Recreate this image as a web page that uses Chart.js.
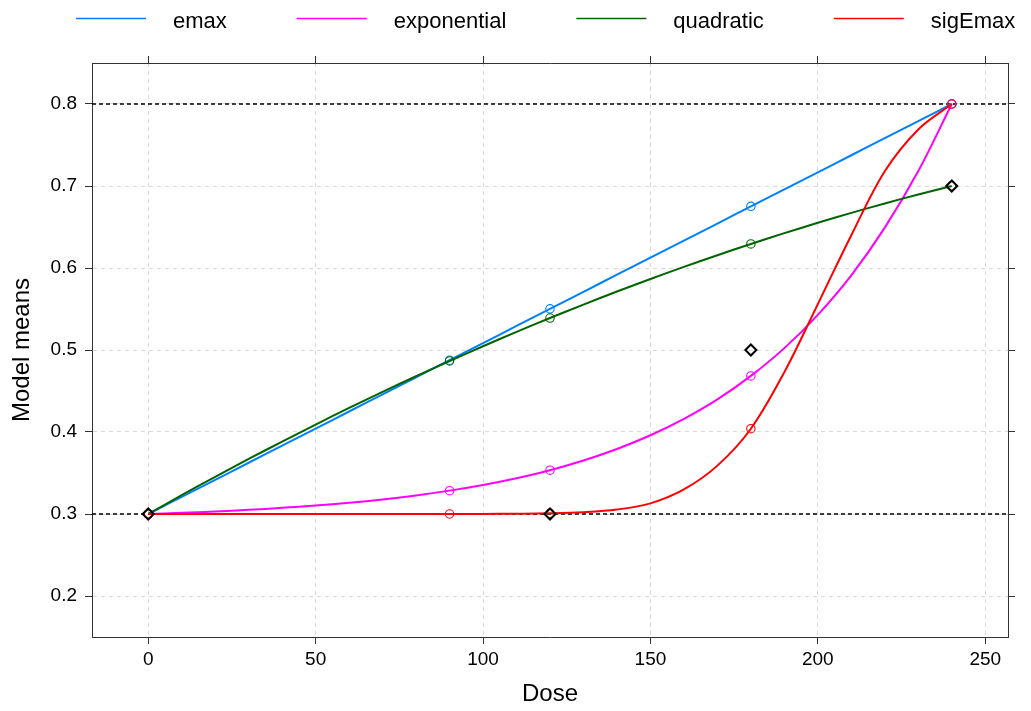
<!DOCTYPE html>
<html>
<head>
<meta charset="utf-8">
<title>Model means by dose</title>
<script src="https://cdn.jsdelivr.net/npm/chart.js@4.4.0/dist/chart.umd.min.js"></script>
<style>
  html, body { margin: 0; padding: 0; background: #fff; }
  #wrap { width: 1031px; height: 711px; }
</style>
</head>
<body>
<div id="wrap"><canvas id="chart" width="1031" height="711"></canvas></div>
<script>
(function () {
  /* ---------- data ---------- */
  const doses = [0, 10, 20, 30, 40, 50, 60, 70, 80, 90, 100, 110, 120,
                 130, 140, 150, 160, 170, 180, 190, 200, 210, 220, 230, 240];
  const markedDoses = [0, 90, 120, 180, 240];

  const emaxMeans = [0.3000, 0.3208, 0.3417, 0.3625, 0.3833, 0.4042, 0.4250, 0.4458, 0.4667, 0.4876, 0.5084, 0.5293, 0.5502,
                     0.5710, 0.5918, 0.6126, 0.6334, 0.6542, 0.6752, 0.6959, 0.7167, 0.7375, 0.7584, 0.7792, 0.8000];
  const exponentialMeans = [0.3000, 0.3014, 0.3031, 0.3051, 0.3075, 0.3103, 0.3137, 0.3178, 0.3227, 0.3285, 0.3354, 0.3436, 0.3534,
                            0.3652, 0.3793, 0.3960, 0.4160, 0.4398, 0.4684, 0.5023, 0.5429, 0.5911, 0.6492, 0.7182, 0.8000];
  const quadraticMeans = [0.3000, 0.3229, 0.3453, 0.3671, 0.3883, 0.4091, 0.4293, 0.4489, 0.4680, 0.4866, 0.5046, 0.5221, 0.5390,
                          0.5554, 0.5713, 0.5866, 0.6014, 0.6156, 0.6293, 0.6425, 0.6551, 0.6672, 0.6787, 0.6897, 0.7000];
  const sigEmaxMeans = [0.3000, 0.3000, 0.3000, 0.3000, 0.3000, 0.3000, 0.3000, 0.3000, 0.3000, 0.3000, 0.3001, 0.3003, 0.3008,
                        0.3022, 0.3055, 0.3130, 0.3300, 0.3590, 0.4040, 0.4730, 0.5560, 0.6400, 0.7180, 0.7690, 0.8000];

  const seriesNames = ["emax", "exponential", "quadratic", "sigEmax"];
  const seriesColors = ["#0080ff", "#ff00ff", "#006400", "#ff0000"];
  const seriesMeans = [emaxMeans, exponentialMeans, quadraticMeans, sigEmaxMeans];

  // diamonds: target means at selected doses
  const targetDoses = [0, 120, 180, 240];
  const targetMeans = [0.3, 0.3, 0.5, 0.7];

  // dotted reference levels (placebo / max effect)
  const refLevels = [0.3, 0.8];

  const xLimits = [-16.8, 256.8];
  const yLimits = [0.15, 0.85];
  const xTicks = [0, 50, 100, 150, 200, 250];
  const yTicks = [0.2, 0.3, 0.4, 0.5, 0.6, 0.7, 0.8];

  Chart.defaults.font.family = '"Liberation Sans", Arial, Helvetica, sans-serif';
  Chart.defaults.color = "#000";

  /* ---------- datasets ---------- */
  const modelSets = seriesNames.map((name, i) => ({
    label: name,
    data: doses.map((d, j) => ({ x: d, y: seriesMeans[i][j] })),
    borderColor: seriesColors[i],
    borderWidth: 2,
    tension: 0.35,
    fill: false,
    pointRadius: (c) => (c.raw && markedDoses.includes(c.raw.x) ? 4.2 : 0),
    pointBorderWidth: 1.1,
    pointBorderColor: seriesColors[i],
    pointBackgroundColor: "rgba(0,0,0,0)",
    order: 4 - i,
  }));

  const refSets = refLevels.map((lvl) => ({
    label: "ref " + lvl,
    data: xLimits.map((x) => ({ x: x, y: lvl })),
    borderColor: "#000",
    borderWidth: 1.3,
    borderDash: [4, 3],
    pointRadius: 0,
    fill: false,
    order: 10,
  }));

  const targetSet = {
    label: "target",
    data: targetDoses.map((d, i) => ({ x: d, y: targetMeans[i] })),
    showLine: false,
    pointStyle: "rectRot",
    pointRadius: 5.5,
    pointBorderWidth: 2,
    pointBorderColor: "#000",
    pointBackgroundColor: "rgba(0,0,0,0)",
    order: 0,
  };

  /* ---------- key across the top ---------- */
  const keyLegend = {
    id: "keyLegend",
    afterDraw(chart) {
      const ctx = chart.ctx;
      ctx.save();
      ctx.font = '22px "Liberation Sans", Arial, Helvetica, sans-serif';
      ctx.textBaseline = "alphabetic";
      ctx.textAlign = "left";
      let x = 76;
      seriesNames.forEach((name, i) => {
        ctx.strokeStyle = seriesColors[i];
        ctx.lineWidth = 1.5;
        ctx.beginPath();
        ctx.moveTo(x, 18.5);
        ctx.lineTo(x + 70, 18.5);
        ctx.stroke();
        x += 97;
        ctx.fillStyle = "#000";
        ctx.fillText(name, x, 27.5);
        x += ctx.measureText(name).width + 70;
      });
      ctx.restore();
    },
  };

  const gridOpts = (onArea) => ({
    drawOnChartArea: onArea,
    color: "#d9d9d9",
    lineWidth: 1,
    tickColor: "#333",
    tickLength: 7,
    tickWidth: 1,
    tickBorderDash: [],
  });
  const borderOpts = { color: "#333", width: 1, dash: [4, 4] };

  new Chart(document.getElementById("chart"), {
    type: "line",
    data: { datasets: [...modelSets, ...refSets, targetSet] },
    plugins: [keyLegend],
    options: {
      responsive: false,
      animation: false,
      devicePixelRatio: 1,
      events: [],
      layout: { padding: { left: 0, right: 16, top: 56, bottom: 0 } },
      plugins: { legend: { display: false }, tooltip: { enabled: false } },
      scales: {
        x: {
          type: "linear",
          position: "bottom",
          min: xLimits[0],
          max: xLimits[1],
          afterBuildTicks: (s) => { s.ticks = xTicks.map((v) => ({ value: v })); },
          afterFit: (s) => { s.height = 74; },
          grid: gridOpts(true),
          border: borderOpts,
          ticks: { font: { size: 19 }, color: "#000", padding: 4, maxRotation: 0, autoSkip: false },
          title: { display: true, text: "Dose", font: { size: 24 }, color: "#000", padding: { top: 0, bottom: 2 } },
        },
        x2: {
          type: "linear",
          position: "top",
          min: xLimits[0],
          max: xLimits[1],
          afterBuildTicks: (s) => { s.ticks = xTicks.map((v) => ({ value: v })); },
          afterFit: (s) => { s.height = 7; },
          grid: gridOpts(false),
          border: borderOpts,
          ticks: { display: false },
        },
        y: {
          type: "linear",
          position: "left",
          min: yLimits[0],
          max: yLimits[1],
          afterBuildTicks: (s) => { s.ticks = yTicks.map((v) => ({ value: v })); },
          afterFit: (s) => { s.width = 92; },
          grid: gridOpts(true),
          border: borderOpts,
          ticks: { font: { size: 19 }, color: "#000", padding: 8, callback: (v) => Number(v).toFixed(1) },
          title: { display: true, text: "Model means", font: { size: 24 }, color: "#000", padding: { top: 8, bottom: 0 } },
        },
        y2: {
          type: "linear",
          position: "right",
          min: yLimits[0],
          max: yLimits[1],
          afterBuildTicks: (s) => { s.ticks = yTicks.map((v) => ({ value: v })); },
          afterFit: (s) => { s.width = 7; },
          grid: gridOpts(false),
          border: borderOpts,
          ticks: { display: false },
        },
      },
    },
  });
})();
</script>
</body>
</html>
